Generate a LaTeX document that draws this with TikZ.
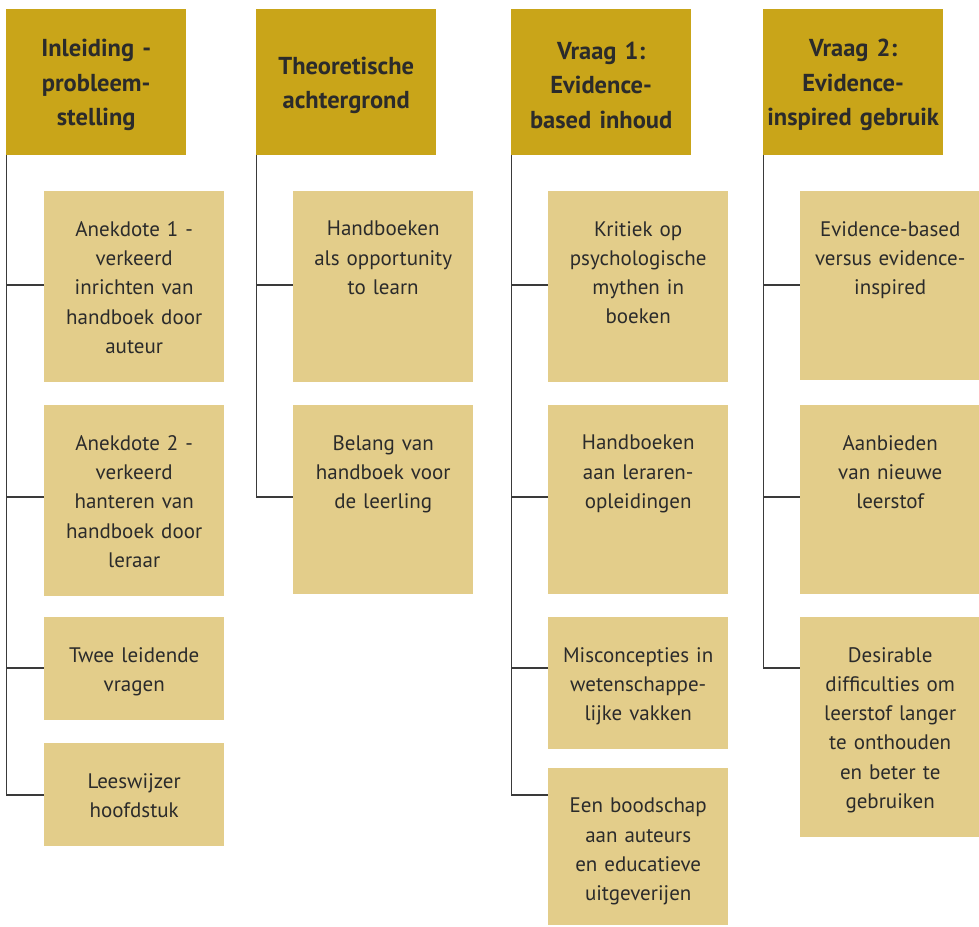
\documentclass[tikz,border=0pt]{standalone}
\usepackage{fontspec}
\setmainfont{PT Sans}
\definecolor{headc}{HTML}{C9A519}
\definecolor{boxc}{HTML}{E3CD8A}
\definecolor{txtc}{HTML}{2B2B2B}
\definecolor{linec}{HTML}{3A3A3A}
\tikzset{
  head/.style={fill=headc, draw=none, minimum width=180pt, minimum height=146pt, anchor=north west, inner sep=0pt},
  htxt/.style={inner sep=0pt, align=center, text width=176pt, font=\fontsize{24.5}{34.5}\selectfont\bfseries, text=txtc},
  cbox/.style={fill=boxc, draw=none, minimum width=180pt, anchor=north west, inner sep=0pt},
  ctxt/.style={anchor=north, inner sep=0pt, align=center, text width=172pt,
    font=\fontsize{21}{29.3}\selectfont, text=txtc},
  conn/.style={draw=linec, line width=1.3pt},
}
\begin{document}
\begin{tikzpicture}[x=1pt,y=-1pt]
\useasboundingbox (0,0) rectangle (979,926);
% headers
\node[head] (h1) at (6,9) {};
\node[htxt] (ht1) at ([yshift=-3pt]h1.center) {Inleiding -\\probleem-\\stelling};
\node[head] (h2) at (256,9) {};
\node[htxt] (ht2) at ([yshift=-3pt]h2.center) {Theoretische\\achtergrond};
\node[head] (h3) at (511,9) {};
\node[htxt] (ht3) at ([yshift=-3pt]h3.center) {Vraag 1:\\Evidence-\\based inhoud};
\node[head] (h4) at (763,9) {};
\node[htxt] (ht4) at ([yshift=-3pt]h4.center) {Vraag 2:\\Evidence-\\inspired gebruik};
% row levels
\coordinate (r1) at (0,285);
\coordinate (r2) at (0,497);
\coordinate (r3) at (0,668);
\coordinate (r4) at (0,795);
% column 1
\node[cbox, minimum height=191pt] (c11) at (44,191) {};
\node[ctxt] (t11) at ([yshift=-30pt]c11.north) {Anekdote 1 -\\verkeerd\\inrichten van\\handboek door\\auteur};
\node[cbox, minimum height=191pt] (c12) at (44,405) {};
\node[ctxt] (t12) at ([yshift=-30pt]c12.north) {Anekdote 2 -\\verkeerd\\hanteren van\\handboek door\\leraar};
\node[cbox, minimum height=103pt] (c13) at (44,617) {};
\node[ctxt] (t13) at ([yshift=-30pt]c13.north) {Twee leidende\\vragen};
\node[cbox, minimum height=103pt] (c14) at (44,743) {};
\node[ctxt] (t14) at ([yshift=-30pt]c14.north) {Leeswijzer\\hoofdstuk};
% column 2
\node[cbox, minimum height=191pt] (c21) at (293,191) {};
\node[ctxt] (t21) at ([yshift=-30pt]c21.north) {Handboeken\\als opportunity\\to learn};
\node[cbox, minimum height=189pt] (c22) at (293,405) {};
\node[ctxt] (t22) at ([yshift=-30pt]c22.north) {Belang van\\handboek voor\\de leerling};
% column 3
\node[cbox, minimum height=191pt] (c31) at (548,191) {};
\node[ctxt] (t31) at ([yshift=-30pt]c31.north) {Kritiek op\\psychologische\\mythen in\\boeken};
\node[cbox, minimum height=189pt] (c32) at (548,405) {};
\node[ctxt] (t32) at ([yshift=-30pt]c32.north) {Handboeken\\aan leraren-\\opleidingen};
\node[cbox, minimum height=132pt] (c33) at (548,617) {};
\node[ctxt] (t33) at ([yshift=-30pt]c33.north) {Misconcepties in\\wetenschappe-\\lijke vakken};
\node[cbox, minimum height=157pt] (c34) at (548,768) {};
\node[ctxt] (t34) at ([yshift=-30pt]c34.north) {Een boodschap\\aan auteurs\\en educatieve\\uitgeverijen};
% column 4
\node[cbox, minimum height=189pt] (c41) at (800,191) {};
\node[ctxt] (t41) at ([yshift=-30pt]c41.north) {Evidence-based\\versus evidence-\\inspired};
\node[cbox, minimum height=189pt] (c42) at (800,405) {};
\node[ctxt] (t42) at ([yshift=-30pt]c42.north) {Aanbieden\\van nieuwe\\leerstof};
\node[cbox, minimum height=220pt] (c43) at (800,617) {};
\node[ctxt] (t43) at ([yshift=-30pt]c43.north) {Desirable\\difficulties om\\leerstof langer\\te onthouden\\en beter te\\gebruiken};
% connectors
\draw[conn] ([xshift=0.65pt]h1.south west) |- (c11.west |- r1);
\draw[conn] ([xshift=0.65pt]h1.south west) |- (c12.west |- r2);
\draw[conn] ([xshift=0.65pt]h1.south west) |- (c13.west |- r3);
\draw[conn] ([xshift=0.65pt]h1.south west) |- (c14.west |- r4);
\draw[conn] ([xshift=0.65pt]h2.south west) |- (c21.west |- r1);
\draw[conn] ([xshift=0.65pt]h2.south west) |- (c22.west |- r2);
\draw[conn] ([xshift=0.65pt]h3.south west) |- (c31.west |- r1);
\draw[conn] ([xshift=0.65pt]h3.south west) |- (c32.west |- r2);
\draw[conn] ([xshift=0.65pt]h3.south west) |- (c33.west |- r3);
\draw[conn] ([xshift=0.65pt]h3.south west) |- (c34.west |- r4);
\draw[conn] ([xshift=0.65pt]h4.south west) |- (c41.west |- r1);
\draw[conn] ([xshift=0.65pt]h4.south west) |- (c42.west |- r2);
\draw[conn] ([xshift=0.65pt]h4.south west) |- (c43.west |- r3);
\end{tikzpicture}
\end{document}
